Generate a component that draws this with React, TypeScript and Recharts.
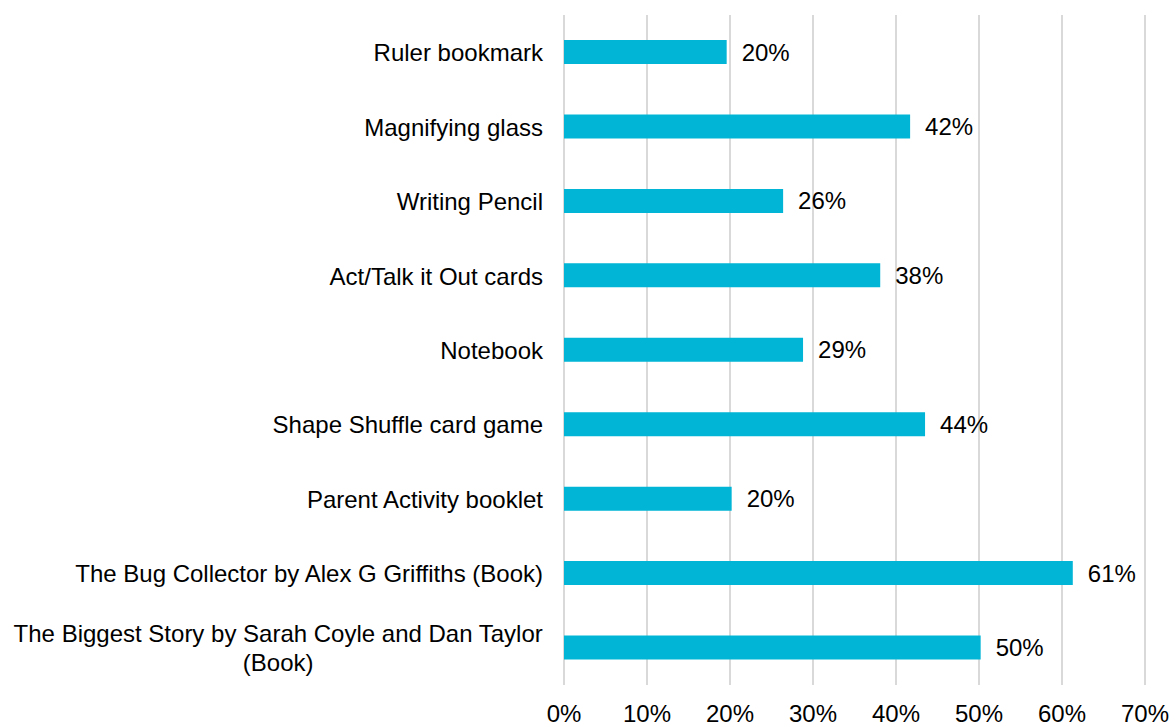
import { Bar, BarChart, CartesianGrid, LabelList, XAxis, YAxis } from "recharts";

const categories = [
  "Ruler bookmark",
  "Magnifying glass",
  "Writing Pencil",
  "Act/Talk it Out cards",
  "Notebook",
  "Shape Shuffle card game",
  "Parent Activity booklet",
  "The Bug Collector by Alex G Griffiths (Book)",
  "The Biggest Story by Sarah Coyle and Dan Taylor (Book)",
];

const shares = [19.6, 41.7, 26.4, 38.1, 28.8, 43.5, 20.2, 61.3, 50.2];

const xTicks = [0, 10, 20, 30, 40, 50, 60, 70];

const data = categories.map((name, i) => ({ name, share: shares[i] }));

const FONT = '"Liberation Sans", Arial, sans-serif';
const FONT_SIZE = 24;

let ctx: CanvasRenderingContext2D | null = null;
function textWidth(s: string) {
  if (!ctx) {
    ctx = document.createElement("canvas").getContext("2d");
    if (ctx) ctx.font = `${FONT_SIZE}px ${FONT}`;
  }
  return ctx ? ctx.measureText(s).width : s.length * 11;
}

function wrap(label: string, maxWidth: number) {
  const lines: string[] = [];
  let cur = "";
  for (const w of label.split(" ")) {
    const next = cur ? cur + " " + w : w;
    if (cur && textWidth(next) > maxWidth) {
      lines.push(cur);
      cur = w;
    } else {
      cur = next;
    }
  }
  if (cur) lines.push(cur);
  return lines;
}

function CategoryTick(props: any) {
  const { x, y, payload } = props;
  const lines = wrap(String(payload.value), 540);
  const blockWidth = Math.max(...lines.map(textWidth));
  const cx = x - blockWidth / 2;
  const lineH = 29;
  const startY = y - ((lines.length - 1) * lineH) / 2;
  return (
    <text
      fontFamily={FONT}
      fontSize={FONT_SIZE}
      fill="#000"
      textAnchor={lines.length > 1 ? "middle" : "end"}
      dominantBaseline="central"
    >
      {lines.map((l, i) => (
        <tspan key={i} x={lines.length > 1 ? cx : x} y={startY + i * lineH}>
          {l}
        </tspan>
      ))}
    </text>
  );
}

export default function App() {
  return (
    <div style={{ position: "absolute", left: 0, top: 0, background: "#fff" }}>
      <BarChart
        width={1176}
        height={727}
        data={data}
        layout="vertical"
        margin={{ top: 15, right: 31, bottom: 0, left: 0 }}
        barCategoryGap={0}
      >
        <CartesianGrid horizontal={false} stroke="#d9d9d9" strokeWidth={2} />
        <XAxis
          type="number"
          domain={[0, 70]}
          ticks={xTicks}
          tickFormatter={(v) => `${v}%`}
          axisLine={false}
          tickLine={false}
          tickSize={0}
          tickMargin={20}
          height={42}
          interval={0}
          tick={{ fontFamily: FONT, fontSize: FONT_SIZE, fill: "#000" }}
        />
        <YAxis
          type="category"
          dataKey="name"
          width={564}
          axisLine={false}
          tickLine={false}
          tickSize={0}
          tickMargin={21}
          interval={0}
          tick={<CategoryTick />}
        />
        <Bar dataKey="share" fill="#00B5D6" barSize={24} isAnimationActive={false}>
          <LabelList
            dataKey="share"
            position="right"
            offset={15}
            formatter={(v: any) => `${Math.round(Number(v))}%`}
            style={{ fontFamily: FONT, fontSize: FONT_SIZE, fill: "#000" }}
          />
        </Bar>
      </BarChart>
    </div>
  );
}
